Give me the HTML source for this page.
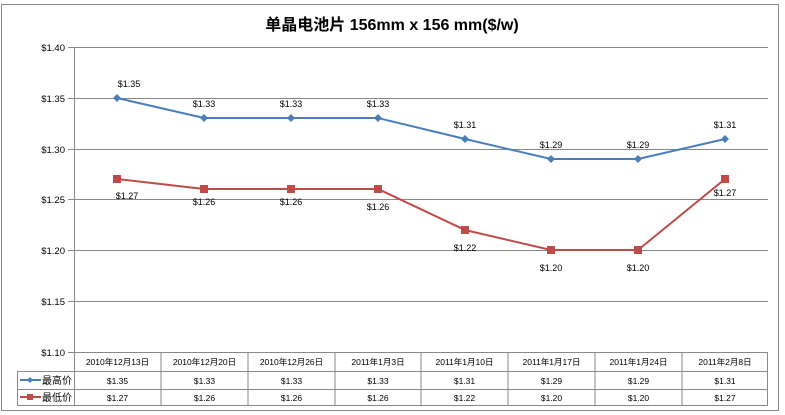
<!DOCTYPE html><html><head><meta charset="utf-8"><style>body{margin:0;background:#fff}svg{display:block}text{font-family:"Liberation Sans","Noto Sans CJK SC",sans-serif}</style></head><body>
<svg width="785" height="415" viewBox="0 0 785 415" xmlns="http://www.w3.org/2000/svg">
<rect x="1.5" y="4.5" width="777" height="406" fill="#fff" stroke="#888" stroke-width="1"/>
<text x="392" y="30" font-size="16" font-weight="bold" text-anchor="middle">单晶电池片 156mm x 156 mm($/w)</text>
<g stroke="#888" stroke-width="1">
<line x1="74" y1="47.5" x2="768" y2="47.5"/><line x1="74" y1="98.5" x2="768" y2="98.5"/><line x1="74" y1="149.5" x2="768" y2="149.5"/><line x1="74" y1="199.5" x2="768" y2="199.5"/><line x1="74" y1="250.5" x2="768" y2="250.5"/><line x1="74" y1="301.5" x2="768" y2="301.5"/>
<line x1="74.5" y1="47" x2="74.5" y2="405"/>
<line x1="68" y1="47.5" x2="74" y2="47.5"/><line x1="68" y1="98.5" x2="74" y2="98.5"/><line x1="68" y1="149.5" x2="74" y2="149.5"/><line x1="68" y1="199.5" x2="74" y2="199.5"/><line x1="68" y1="250.5" x2="74" y2="250.5"/><line x1="68" y1="301.5" x2="74" y2="301.5"/><line x1="68" y1="352.5" x2="74" y2="352.5"/>
<line x1="74" y1="352.5" x2="768" y2="352.5"/><line x1="17" y1="371.5" x2="768" y2="371.5"/><line x1="17" y1="389.5" x2="768" y2="389.5"/><line x1="17" y1="405.5" x2="768" y2="405.5"/>
<line x1="17.5" y1="371" x2="17.5" y2="405"/>
<line x1="161" y1="352" x2="161" y2="405"/><line x1="248" y1="352" x2="248" y2="405"/><line x1="335" y1="352" x2="335" y2="405"/><line x1="421" y1="352" x2="421" y2="405"/><line x1="508" y1="352" x2="508" y2="405"/><line x1="595" y1="352" x2="595" y2="405"/><line x1="682" y1="352" x2="682" y2="405"/><line x1="767.5" y1="352" x2="767.5" y2="405"/>
</g>
<g font-size="9.5" text-anchor="end">
<text x="65" y="51">$1.40</text><text x="65" y="102">$1.35</text><text x="65" y="153">$1.30</text><text x="65" y="203">$1.25</text><text x="65" y="254">$1.20</text><text x="65" y="305">$1.15</text><text x="65" y="356">$1.10</text>
</g>
<polyline fill="none" stroke="#4a7ebb" stroke-width="2" points="117,98 204,118 291,118 378,118 465,139 551,159 638,159 725,139"/>
<polyline fill="none" stroke="#be4b48" stroke-width="2" points="117,179 204,189 291,189 378,189 465,230 551,250 638,250 725,179"/>
<g fill="#4a7ebb"><path d="M117 94l4 4-4 4-4-4z"/><path d="M204 114l4 4-4 4-4-4z"/><path d="M291 114l4 4-4 4-4-4z"/><path d="M378 114l4 4-4 4-4-4z"/><path d="M465 135l4 4-4 4-4-4z"/><path d="M551 155l4 4-4 4-4-4z"/><path d="M638 155l4 4-4 4-4-4z"/><path d="M725 135l4 4-4 4-4-4z"/></g>
<g fill="#be4b48"><rect x="113" y="175" width="8" height="8"/><rect x="200" y="185" width="8" height="8"/><rect x="287" y="185" width="8" height="8"/><rect x="374" y="185" width="8" height="8"/><rect x="461" y="226" width="8" height="8"/><rect x="547" y="246" width="8" height="8"/><rect x="634" y="246" width="8" height="8"/><rect x="721" y="175" width="8" height="8"/></g>
<g font-size="9" text-anchor="middle">
<text x="129" y="87">$1.35</text><text x="204" y="107">$1.33</text><text x="291" y="107">$1.33</text><text x="378" y="107">$1.33</text><text x="465" y="128">$1.31</text><text x="551" y="148">$1.29</text><text x="638" y="148">$1.29</text><text x="725" y="128">$1.31</text>
<text x="127" y="199">$1.27</text><text x="204" y="205">$1.26</text><text x="291" y="205">$1.26</text><text x="378" y="210">$1.26</text><text x="465" y="251">$1.22</text><text x="551" y="271">$1.20</text><text x="638" y="271">$1.20</text><text x="725" y="196">$1.27</text>
</g>
<g font-size="8.5" text-anchor="middle">
<text x="117.5" y="365">2010年12月13日</text><text x="204.5" y="365">2010年12月20日</text><text x="291.5" y="365">2010年12月26日</text><text x="378" y="365">2011年1月3日</text><text x="464.5" y="365">2011年1月10日</text><text x="551.5" y="365">2011年1月17日</text><text x="638.5" y="365">2011年1月24日</text><text x="725" y="365">2011年2月8日</text>
<text x="117.5" y="384">$1.35</text><text x="204.5" y="384">$1.33</text><text x="291.5" y="384">$1.33</text><text x="378" y="384">$1.33</text><text x="464.5" y="384">$1.31</text><text x="551.5" y="384">$1.29</text><text x="638.5" y="384">$1.29</text><text x="725" y="384">$1.31</text>
<text x="117.5" y="401">$1.27</text><text x="204.5" y="401">$1.26</text><text x="291.5" y="401">$1.26</text><text x="378" y="401">$1.26</text><text x="464.5" y="401">$1.22</text><text x="551.5" y="401">$1.20</text><text x="638.5" y="401">$1.20</text><text x="725" y="401">$1.27</text>
</g>
<line x1="20" y1="380" x2="41" y2="380" stroke="#4a7ebb" stroke-width="2"/><path d="M30 377l3 3-3 3-3-3z" fill="#4a7ebb"/>
<line x1="20" y1="397" x2="41" y2="397" stroke="#be4b48" stroke-width="2"/><rect x="27" y="394" width="6" height="6" fill="#be4b48"/>
<g font-size="10"><text x="42" y="384">最高价</text><text x="42" y="401">最低价</text></g>
</svg></body></html>
